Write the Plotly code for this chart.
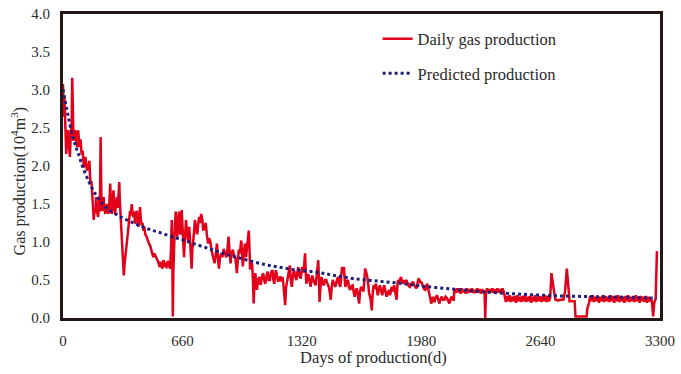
import plotly.graph_objects as go

# Daily gas production, read day by day (days since start, 10^4 m^3)
days = [
    0, 4, 8, 12, 18, 24, 29, 34, 38, 43,
    48, 51, 55, 58, 63, 69, 74, 78, 84, 88,
    91, 97, 103, 109, 115, 120, 124, 129, 133, 140,
    146, 150, 152, 157, 161, 165, 170, 175, 180, 183,
    188, 194, 198, 201, 204, 208, 212, 216, 220, 225,
    229, 234, 239, 243, 248, 252, 256, 261, 265, 270,
    274, 279, 284, 288, 293, 298, 303, 307, 311, 315,
    320, 324, 329, 332, 336, 340, 343, 348, 353, 358,
    362, 366, 371, 375, 380, 384, 389, 394, 398, 403,
    408, 412, 417, 421, 426, 430, 435, 440, 444, 449,
    455, 462, 468, 475, 482, 490, 495, 499, 505, 512,
    519, 526, 531, 535, 540, 545, 550, 555, 560, 566,
    572, 578, 585, 592, 597, 601, 604, 607, 610, 614,
    618, 623, 627, 632, 637, 641, 645, 650, 656, 660,
    665, 669, 674, 680, 686, 693, 698, 704, 711, 715,
    720, 725, 729, 735, 742, 748, 753, 758, 764, 770,
    775, 782, 789, 795, 802, 808, 815, 820, 826, 832,
    838, 845, 851, 856, 862, 868, 875, 881, 888, 895,
    903, 909, 915, 920, 926, 932, 939, 945, 952, 957,
    961, 966, 972, 978, 985, 990, 994, 1000, 1005, 1009,
    1012, 1018, 1022, 1027, 1031, 1034, 1040, 1045, 1050, 1054,
    1058, 1063, 1068, 1072, 1078, 1085, 1090, 1094, 1100, 1107,
    1112, 1118, 1125, 1131, 1137, 1144, 1150, 1158, 1163, 1168,
    1172, 1177, 1183, 1189, 1195, 1200, 1206, 1213, 1218, 1223,
    1228, 1233, 1241, 1247, 1254, 1259, 1265, 1270, 1277, 1283,
    1290, 1295, 1301, 1307, 1314, 1318, 1323, 1330, 1334, 1338,
    1342, 1345, 1350, 1356, 1362, 1369, 1374, 1378, 1384, 1390,
    1396, 1402, 1407, 1411, 1415, 1418, 1423, 1429, 1435, 1442,
    1448, 1455, 1462, 1469, 1474, 1480, 1485, 1491, 1498, 1506,
    1512, 1520, 1526, 1533, 1538, 1542, 1548, 1553, 1557, 1561,
    1568, 1575, 1581, 1588, 1595, 1601, 1606, 1612, 1618, 1624,
    1630, 1637, 1642, 1648, 1655, 1661, 1666, 1670, 1676, 1681,
    1687, 1692, 1700, 1707, 1711, 1716, 1722, 1729, 1735, 1740,
    1746, 1752, 1758, 1765, 1770, 1776, 1782, 1789, 1795, 1802,
    1808, 1817, 1824, 1831, 1837, 1844, 1849, 1853, 1858, 1863,
    1868, 1874, 1880, 1886, 1892, 1898, 1905, 1911, 1917, 1923,
    1929, 1935, 1941, 1947, 1953, 1959, 1965, 1971, 1976, 1981,
    1986, 1990, 1996, 2003, 2008, 2013, 2019, 2026, 2031, 2035,
    2040, 2045, 2050, 2054, 2060, 2068, 2074, 2081, 2087, 2094,
    2100, 2108, 2115, 2123, 2130, 2136, 2142, 2149, 2155, 2160,
    2163, 2170, 2177, 2184, 2191, 2198, 2205, 2212, 2219, 2226,
    2233, 2240, 2247, 2254, 2261, 2268, 2275, 2282, 2289, 2296,
    2303, 2310, 2317, 2324, 2330, 2334, 2338, 2345, 2352, 2359,
    2366, 2373, 2380, 2387, 2394, 2401, 2408, 2415, 2422, 2429,
    2436,
    2441, 2448, 2455, 2462, 2469, 2476, 2483, 2490, 2497, 2504,
    2511, 2518, 2525, 2532, 2539, 2546, 2553, 2560, 2567, 2574,
    2581, 2588, 2595, 2602, 2609, 2616, 2623, 2630, 2637, 2644,
    2651, 2658, 2665, 2672, 2679, 2686, 2693,
    2700, 2710, 2722, 2735, 2750, 2766, 2775, 2785, 2793, 2800,
    2815, 2828, 2833, 2860, 2894, 2899, 2908,
    2914, 2921, 2928, 2935, 2942, 2949, 2956, 2963, 2970, 2977,
    2984, 2991, 2998, 3005, 3012, 3019, 3026, 3033, 3040, 3047,
    3054, 3061, 3068, 3075, 3082, 3089, 3096, 3103, 3110, 3117,
    3124, 3131, 3138, 3145, 3152, 3159, 3166, 3173, 3180, 3187,
    3194, 3201, 3208, 3215, 3222, 3229, 3236, 3243, 3250, 3256,
    3262, 3268, 3276, 3283,
]

gas = [
    3.08, 2.65, 2.9, 2.5, 2.16, 2.45, 2.47, 2.25, 2.12, 2.4,
    2.6, 3.16, 2.5, 2.33, 2.45, 2.47, 2.3, 2.25, 2.47, 2.3,
    2.25, 2.35, 2.15, 2.2, 1.98, 2.05, 2.12, 2.0, 1.94, 2.0,
    2.07, 1.85, 1.77, 1.8, 1.68, 1.5, 1.29, 1.45, 1.38, 1.59,
    1.4, 1.33, 1.45, 1.59, 1.4, 2.38, 1.6, 1.41, 1.5, 1.59,
    1.42, 1.37, 1.45, 1.5, 1.4, 1.37, 1.5, 1.77, 1.5, 1.37,
    1.55, 1.68, 1.45, 1.37, 1.5, 1.59, 1.45, 1.6, 1.79, 1.5,
    1.29, 1.1, 0.87, 0.7, 0.56, 0.7, 0.76, 0.85, 0.98, 1.05,
    1.2, 1.3, 1.41, 1.35, 1.5, 1.4, 1.33, 1.4, 1.24, 1.35,
    1.41, 1.3, 1.2, 1.32, 1.46, 1.3, 1.22, 1.25, 1.15, 1.2,
    1.1, 1.07, 1.02, 0.98, 0.95, 0.89, 0.85, 0.8, 0.85, 0.82,
    0.78, 0.74, 0.7, 0.67, 0.74, 0.7, 0.65, 0.76, 0.72, 0.68,
    0.67, 0.75, 0.7, 0.65, 0.9, 1.29, 0.9, 0.02, 0.6, 1.02,
    1.2, 1.4, 1.2, 1.07, 1.25, 1.4, 1.15, 1.1, 1.42, 1.2,
    1.0, 0.8, 1.05, 1.29, 1.1, 1.0, 1.2, 0.95, 0.65, 0.9,
    1.1, 1.15, 1.29, 1.2, 1.1, 1.25, 1.33, 1.25, 1.37, 1.3,
    1.15, 1.2, 1.25, 1.1, 0.98, 1.05, 1.0, 0.9, 0.85, 0.78,
    0.72, 0.85, 0.98, 0.8, 0.65, 0.8, 0.85, 0.8, 0.91, 0.85,
    0.8, 0.9, 1.07, 0.9, 0.72, 0.85, 0.9, 0.82, 0.8, 0.7,
    0.59, 0.75, 0.9, 0.85, 1.02, 0.85, 0.68, 0.85, 0.98, 0.9,
    0.8, 0.95, 1.05, 1.15, 0.9, 0.64, 0.7, 0.72, 0.5, 0.19,
    0.45, 0.59, 0.45, 0.37, 0.5, 0.54, 0.45, 0.45, 0.55, 0.59,
    0.5, 0.45, 0.55, 0.61, 0.5, 0.5, 0.6, 0.63, 0.5, 0.45,
    0.55, 0.63, 0.55, 0.48, 0.5, 0.55, 0.48, 0.54, 0.45, 0.35,
    0.17, 0.4, 0.5, 0.6, 0.69, 0.5, 0.41, 0.55, 0.63, 0.55,
    0.5, 0.6, 0.67, 0.55, 0.52, 0.6, 0.67, 0.6, 0.7, 0.85,
    0.6, 0.45, 0.5, 0.58, 0.5, 0.41, 0.5, 0.56, 0.5, 0.45,
    0.43, 0.55, 0.65, 0.76, 0.5, 0.21, 0.4, 0.54, 0.45, 0.43,
    0.5, 0.5, 0.45, 0.41, 0.35, 0.24, 0.4, 0.5, 0.45, 0.41,
    0.48, 0.54, 0.45, 0.41, 0.55, 0.67, 0.6, 0.67, 0.5, 0.41,
    0.48, 0.5, 0.4, 0.37, 0.42, 0.43, 0.35, 0.28, 0.36, 0.39,
    0.3, 0.19, 0.35, 0.41, 0.38, 0.35, 0.5, 0.65, 0.6, 0.56,
    0.45, 0.33, 0.25, 0.1, 0.3, 0.41, 0.4, 0.45, 0.38, 0.3,
    0.38, 0.43, 0.36, 0.3, 0.38, 0.43, 0.35, 0.28, 0.33, 0.37,
    0.3, 0.41, 0.35, 0.43, 0.33, 0.24, 0.45, 0.5, 0.47, 0.52,
    0.54, 0.48, 0.45, 0.5, 0.47, 0.5, 0.45, 0.42, 0.41, 0.46,
    0.44, 0.48, 0.43, 0.4, 0.39, 0.45, 0.52, 0.5, 0.46, 0.48,
    0.42, 0.41, 0.38, 0.37, 0.42, 0.45, 0.38, 0.32, 0.25, 0.19,
    0.26, 0.28, 0.22, 0.22, 0.27, 0.3, 0.24, 0.19, 0.25, 0.28,
    0.24, 0.24, 0.28, 0.26, 0.22, 0.19, 0.25, 0.28, 0.24, 0.24,
    0.38, 0.33, 0.39, 0.34, 0.38, 0.32, 0.39, 0.34, 0.37, 0.32,
    0.39, 0.33, 0.38, 0.34, 0.39, 0.33, 0.37, 0.33, 0.39, 0.34,
    0.38, 0.32, 0.38, 0.34, 0.36, 0.0, 0.35, 0.39, 0.33, 0.38,
    0.34, 0.39, 0.33, 0.38, 0.34, 0.39, 0.33, 0.38, 0.34, 0.39,
    0.35,
    0.27, 0.21, 0.29, 0.22, 0.3, 0.21, 0.28, 0.22, 0.29, 0.2,
    0.3, 0.22, 0.28, 0.21, 0.29, 0.22, 0.3, 0.21, 0.28, 0.22,
    0.29, 0.2, 0.28, 0.22, 0.3, 0.21, 0.28, 0.22, 0.29, 0.21,
    0.28, 0.22, 0.3, 0.21, 0.29, 0.22, 0.27,
    0.59, 0.42, 0.24, 0.23, 0.24, 0.24, 0.35, 0.65, 0.38, 0.22,
    0.22, 0.22, 0.02, 0.02, 0.02, 0.13, 0.2,
    0.29, 0.22, 0.3, 0.21, 0.28, 0.22, 0.29, 0.2, 0.28, 0.22,
    0.3, 0.21, 0.29, 0.22, 0.28, 0.21, 0.3, 0.22, 0.29, 0.2,
    0.28, 0.22, 0.3, 0.21, 0.29, 0.22, 0.28, 0.2, 0.29, 0.22,
    0.3, 0.21, 0.28, 0.22, 0.29, 0.21, 0.3, 0.22, 0.28, 0.2,
    0.29, 0.22, 0.28, 0.21, 0.29, 0.2, 0.28, 0.22, 0.26, 0.2,
    0.02, 0.2, 0.25, 0.88,
]

assert len(days) == len(gas)

# Decline-curve prediction
pred_days = [0, 15, 30, 50, 70, 85, 110, 140, 165, 190,
             220, 245, 290, 335, 380, 430, 485, 540, 600, 660,
             720, 810, 900, 990, 1085, 1190, 1300, 1410, 1500, 1600,
             1720, 1850, 1980, 2160, 2350, 2560, 2760, 2960, 3150, 3280]
pred_gas = [3.01, 2.82, 2.64, 2.42, 2.26, 2.16, 1.98, 1.81, 1.69, 1.59,
            1.5, 1.44, 1.37, 1.31, 1.26, 1.21, 1.16, 1.12, 1.07, 1.03,
            0.98, 0.91, 0.84, 0.78, 0.72, 0.67, 0.63, 0.6, 0.56, 0.52,
            0.49, 0.46, 0.42, 0.38, 0.34, 0.31, 0.29, 0.28, 0.27, 0.26]

x_ticks = [0, 660, 1320, 1980, 2640, 3300]
y_ticks = [0.0, 0.5, 1.0, 1.5, 2.0, 2.5, 3.0, 3.5, 4.0]

FONT = "Liberation Serif"
TEXT = "#2a2a2a"
FRAME = "#231815"

fig = go.Figure()
fig.add_trace(go.Scatter(
    x=days, y=gas, mode="lines", name="Daily gas production",
    legendgroup="a",
    line=dict(color="#e2001a", width=2.5),
))
fig.add_trace(go.Scatter(
    x=pred_days, y=pred_gas, mode="lines", name="Predicted production",
    legendgroup="b",
    line=dict(color="#1f1f7a", width=3, dash="dot", shape="spline"),
))

axis_common = dict(
    showgrid=False, zeroline=False, showline=True, mirror=True,
    linecolor=FRAME, linewidth=3, ticks="", automargin=False,
    tickfont=dict(family=FONT, size=15, color=TEXT),
)

fig.update_layout(
    width=681, height=374,
    margin=dict(l=63, r=21, t=14, b=56),
    paper_bgcolor="white", plot_bgcolor="white",
    font=dict(family=FONT, size=15, color=TEXT),
    xaxis=dict(range=[0, 3300], tickvals=x_ticks, ticklabelstandoff=7,
               **axis_common),
    yaxis=dict(range=[0, 4], tickvals=y_ticks, tickformat=".1f",
               ticklabelstandoff=7, **axis_common),
    showlegend=True,
    legend=dict(
        x=0.527, y=0.975, xanchor="left", yanchor="top",
        bgcolor="rgba(0,0,0,0)", borderwidth=0,
        font=dict(family=FONT, size=16.5, color=TEXT),
        traceorder="grouped", tracegroupgap=10, itemwidth=30,
    ),
    annotations=[
        dict(text="Gas production(10<sup>4</sup>m<sup>3</sup>)",
             xref="paper", yref="paper", x=-0.075, y=0.45,
             xanchor="center", yanchor="middle", textangle=-90,
             showarrow=False, font=dict(family=FONT, size=16, color=TEXT)),
        dict(text="Days of production(d)",
             xref="paper", yref="paper", x=0.52, y=-0.13,
             xanchor="center", yanchor="middle",
             showarrow=False, font=dict(family=FONT, size=16.5, color=TEXT)),
    ],
)

fig.write_html("out.html")
